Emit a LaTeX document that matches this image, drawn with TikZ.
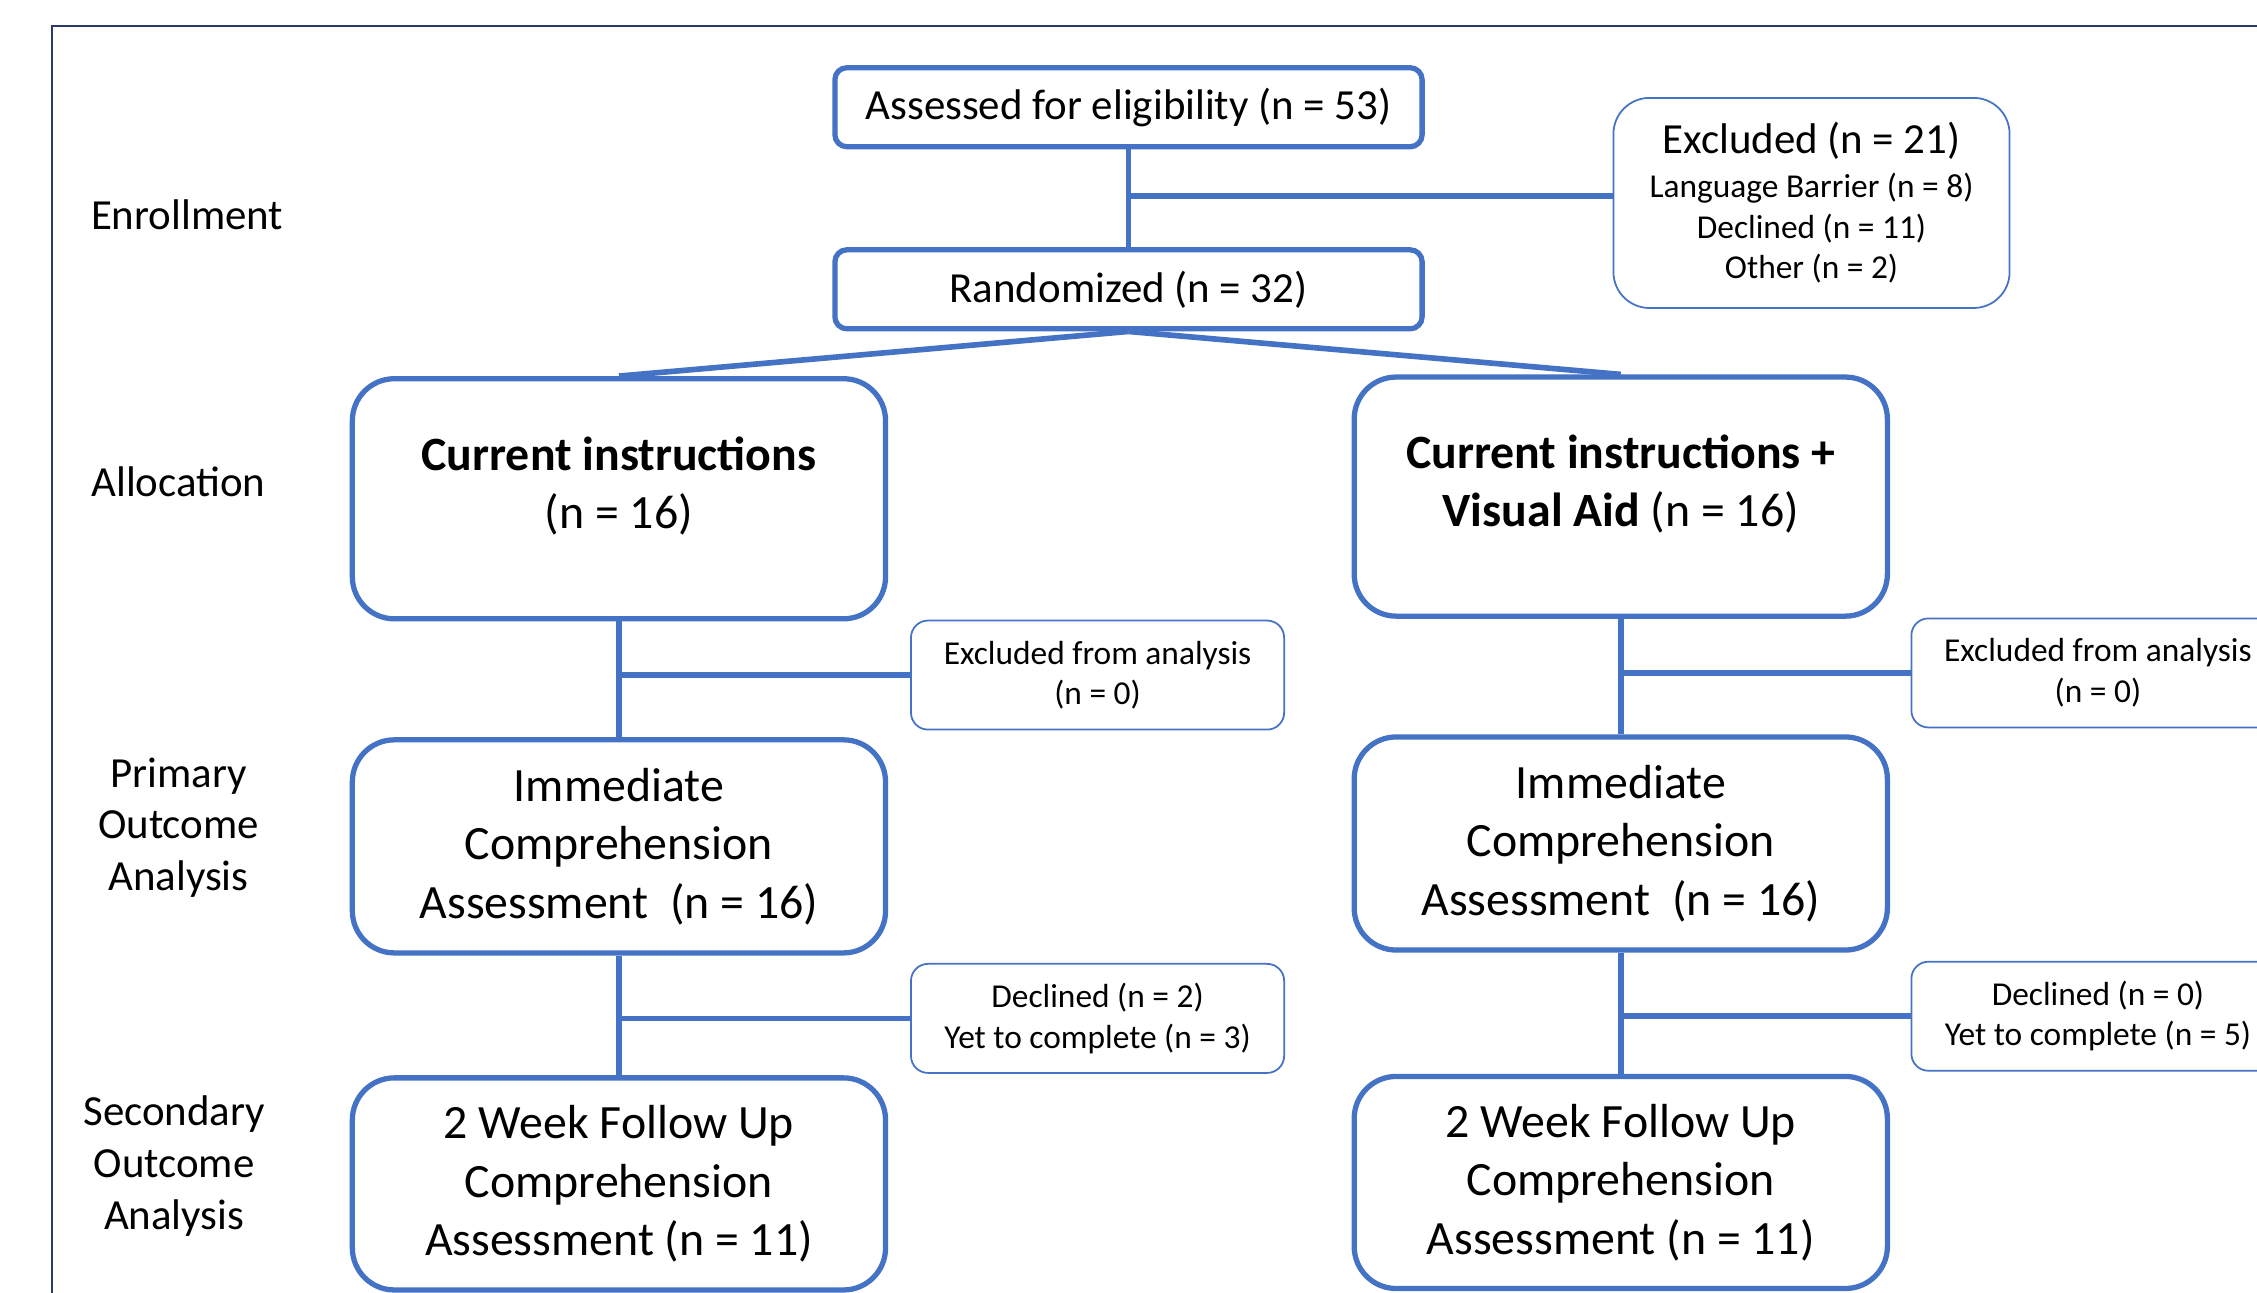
\documentclass[tikz,border=0pt]{standalone}
\usepackage{fontspec}
\setmainfont{Carlito}
\usetikzlibrary{positioning}

\definecolor{lineblue}{HTML}{4472C4}
\definecolor{framenavy}{HTML}{2B3A67}

\begin{document}
\begin{tikzpicture}[
    x=0.014394cm, y=-0.014394cm,
    topbox/.style={rectangle, draw=lineblue, line width=1.5pt, rounded corners=0.12cm,
                   minimum width=5.87cm, minimum height=0.79cm, align=center,
                   font=\fontsize{12.2}{14.7}\selectfont},
    armbox/.style={rectangle, draw=lineblue, line width=1.5pt, rounded corners=0.42cm,
                   minimum width=5.33cm, align=center,
                   font=\fontsize{13.6}{16.6}\selectfont},
    notebox/.style={rectangle, draw=lineblue, line width=0.5pt, rounded corners=0.17cm,
                    minimum width=3.73cm, minimum height=1.09cm, align=center,
                    font=\fontsize{9.5}{11.5}\selectfont},
    stage/.style={align=center, font=\fontsize{12.2}{14.7}\selectfont},
    link/.style={draw=lineblue, line width=1.6pt}
]

\useasboundingbox (0,0) rectangle (1568,898);
\clip (0,0) rectangle (1568,898);

% Outer frame
\draw[framenavy, line width=0.6pt] (36,18) rectangle (1640,960);

% Stage labels
\node[stage] (enrol) at (130,149) {Enrollment};
\node[stage] (alloc) at (124,335) {Allocation};
\node[stage] (prim) at (124,575) {Primary\\Outcome\\Analysis};
\node[stage] (sec) at (121,810) {Secondary\\Outcome\\Analysis};

% Enrollment
\node[topbox] (assess) at (784,74.5) {Assessed for eligibility (n = 53)};
\node[topbox] (rand) at (784,201) {Randomized (n = 32)};
\node[notebox, minimum width=3.96cm, minimum height=2.10cm, rounded corners=0.36cm] (excl) at (1258.5,141)
    {\fontsize{12.2}{14.7}\selectfont Excluded (n = 21)\\[1pt]
     \fontsize{9.5}{11.5}\selectfont Language Barrier (n = 8)\\
     Declined (n = 11)\\
     Other (n = 2)};

% Allocation
\node[armbox, minimum height=2.40cm] (cur) at (430,346.5)
    {\textbf{Current instructions}\\(n = 16)\\[-7.5pt]\mbox{}};
\node[armbox, minimum height=2.39cm] (vis) at (1126,345)
    {\textbf{Current instructions +}\\\textbf{Visual Aid} (n = 16)\\[-7.5pt]\mbox{}};

% Primary outcome
\node[notebox] (exa1) at (762.5,469) {Excluded from analysis\\(n = 0)};
\node[notebox] (exa2) at (1457.5,467.5) {Excluded from analysis\\(n = 0)};
\node[armbox, minimum height=2.13cm] (imm1) at (430,588) {Immediate\\Comprehension\\Assessment~~(n = 16)};
\node[armbox, minimum height=2.13cm] (imm2) at (1126,586) {Immediate\\Comprehension\\Assessment~~(n = 16)};

% Secondary outcome
\node[notebox] (dec1) at (762.5,707.5) {Declined (n = 2)\\Yet to complete (n = 3)};
\node[notebox] (dec2) at (1457.5,706) {Declined (n = 0)\\Yet to complete (n = 5)};
\node[armbox, minimum height=2.12cm] (fol1) at (430,822.5) {2 Week Follow Up\\Comprehension\\Assessment (n = 11)};
\node[armbox, minimum height=2.12cm] (fol2) at (1126,821.5) {2 Week Follow Up\\Comprehension\\Assessment (n = 11)};

% Connectors
\draw[link] (assess) -- (rand);
\draw[link] ([yshift=0.07cm]excl.west) -- ([yshift=0.07cm]excl.west -| assess.south);
\draw[link] (rand.south) -- (cur.north);
\draw[link] (rand.south) -- (vis.north);
\draw[link] (cur) -- (imm1);
\draw[link] (vis) -- (imm2);
\draw[link] (exa1.west) -- (exa1.west -| cur.south);
\draw[link] (exa2.west) -- (exa2.west -| vis.south);
\draw[link] (imm1) -- (fol1);
\draw[link] (imm2) -- (fol2);
\draw[link] (dec1.west) -- (dec1.west -| imm1.south);
\draw[link] (dec2.west) -- (dec2.west -| imm2.south);

\end{tikzpicture}
\end{document}
